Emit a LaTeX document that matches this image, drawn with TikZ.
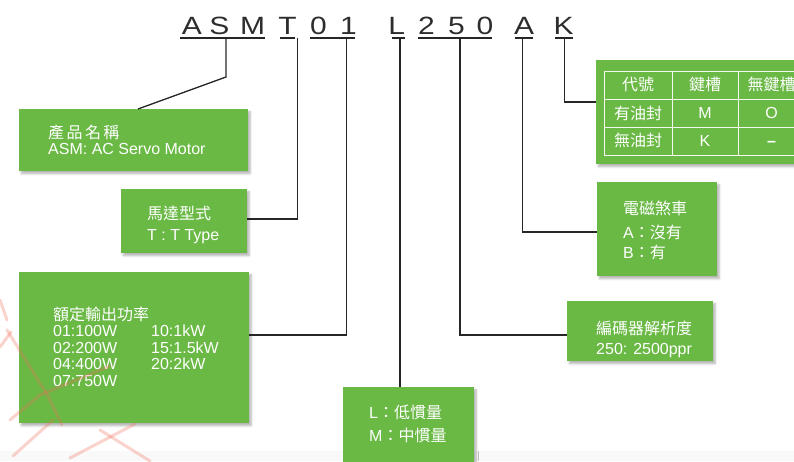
\documentclass[tikz,border=0pt]{standalone}
\usepackage{fontspec}
\setmainfont{Liberation Sans}
\newfontfamily\cjk[Scale=1.0]{Noto Sans CJK TC}
\newfontfamily\cjkwide[Scale=1.0,LetterSpace=15]{Noto Sans CJK TC}
\newfontfamily\codefont[FakeStretch=1.2]{Liberation Sans}
\usetikzlibrary{shadows.blur,calc}
\definecolor{boxgreen}{RGB}{106,185,69}
\definecolor{codegray}{RGB}{45,45,45}
\definecolor{wmark}{RGB}{238,110,90}
\definecolor{bandgray}{RGB}{249,249,249}
\begin{document}
\begin{tikzpicture}[x=1pt,y=-1pt,
  box/.style={fill=boxgreen, draw=none, inner sep=0pt, anchor=north west,
    blur shadow={shadow xshift=2pt,shadow yshift=-2.5pt,shadow opacity=30,shadow blur steps=6}},
  code/.style={font=\codefont\fontsize{25}{25}\selectfont, text=codegray, anchor=base, inner sep=0pt},
  txt/.style={font=\fontsize{16}{18}\selectfont, text=white, anchor=base west, inner sep=0pt},
  cell/.style={font=\fontsize{16}{18}\selectfont, text=white, anchor=base, inner sep=0pt},
  conn/.style={draw=black!85, line width=1.3pt},
  uline/.style={draw=black!85, line width=1.3pt},
  tline/.style={draw=white!92!boxgreen, line width=0.9pt},
  wm/.style={draw=wmark, line width=3pt, opacity=0.3, line cap=round, line join=round}
]
\useasboundingbox (0,0) rectangle (794,461);
\fill[bandgray] (0,451) rectangle (794,461);

% ---- code letters ----
\node[code] (cA)  at (192,34.5) {A};
\node[code] (cS)  at (219.5,34.5) {S};
\node[code] (cM)  at (252.5,34.5) {M};
\node[code] (cT)  at (287.5,34.5) {T};
\node[code] (c0a) at (318.5,34.5) {0};
\node[code] (c1)  at (348.5,34.5) {1};
\node[code] (cL)  at (396.8,34.5) {L};
\node[code] (c2)  at (426.5,34.5) {2};
\node[code] (c5)  at (456.5,34.5) {5};
\node[code] (c0b) at (485,34.5) {0};
\node[code] (cA2) at (524,34.5) {A};
\node[code] (cK)  at (563.5,34.5) {K};

% underlines
\draw[uline] (180,38) -- (265,38);
\draw[uline] (280,38) -- (295,38);
\draw[uline] (310,38) -- (355,38);
\draw[uline] (392,38) -- (405,38);
\draw[uline] (418,38) -- (492,38);
\draw[uline] (515,38) -- (533,38);
\draw[uline] (555,38) -- (573,38);

\coordinate (uASM) at (226,38);
\coordinate (uT)   at (297.7,38);
\coordinate (u01)  at (346.7,38);
\coordinate (uL)   at (400,38);
\coordinate (u250) at (460,38);
\coordinate (uA)   at (522.7,38);
\coordinate (uK)   at (564.3,38);

% ---- boxes ----
\node[box, minimum width=229pt, minimum height=62pt]  (b1) at (19,109) {};
\node[box, minimum width=126pt, minimum height=64pt]  (b2) at (121,189) {};
\node[box, minimum width=230pt, minimum height=151pt] (b3) at (19,272) {};
\node[box, minimum width=131pt, minimum height=80pt]  (bL) at (343,387) {};
\node[box, minimum width=146pt, minimum height=60pt]  (b5) at (567,301) {};
\node[box, minimum width=120pt, minimum height=94pt]  (b6) at (597,182) {};
\node[box, minimum width=230pt, minimum height=104pt] (b7) at (596,60) {};

% ---- connectors ----
\draw[conn] (uASM) -- ++(0,39) -- ($(b1.north west)+(119,0)$);
\draw[conn] (uT) |- ($(b2.north east)+(0,30)$);
\draw[conn] (u01) |- ($(b3.north east)+(0,63)$);
\draw[conn] (uL) -- (uL |- bL.north);
\draw[conn] (u250) |- ($(b5.north west)+(0,34)$);
\draw[conn] (uA) |- ($(b6.north west)+(0,50)$);
\draw[conn] (uK) |- ($(b7.north west)+(0,42)$);

% ---- box texts ----
\node[txt] (t1a) at (48,138) {\cjkwide 產品名稱};
\node[txt] (t1b) at (48,154) {ASM: AC Servo Motor};

\node[txt] (t2a) at (147,219.5) {\cjk 馬達型式};
\node[txt] (t2b) at (147,240) {T : T Type};

\node[txt] (t3a) at (53,320.5) {\cjk 額定輸出功率};
\node[txt] (t3b) at (53,336) {01:100W};
\node[txt] (t3c) at (53,353) {02:200W};
\node[txt] (t3d) at (53,369.5) {04:400W};
\node[txt] (t3e) at (53,386) {07:750W};
\node[txt] (t3f) at (151,336) {10:1kW};
\node[txt] (t3g) at (151,353) {15:1.5kW};
\node[txt] (t3h) at (151,369.5) {20:2kW};

\node[txt] (tLa) at (369,418) {L{\cjk ：低慣量}};
\node[txt] (tLb) at (369,441) {M{\cjk ：中慣量}};

\node[txt] (t5a) at (596,334) {\cjk 編碼器解析度};
\node[txt] (t5b) at (596,354) {250: 2500ppr};

\node[txt] (t6a) at (623,214) {\cjk 電磁煞車};
\node[txt] (t6b) at (623,238) {A{\cjk ：沒有}};
\node[txt] (t6c) at (623,258) {B{\cjk ：有}};

% ---- table ----
\draw[tline] (604,71) rectangle (840,155);
\draw[tline] (604,99) -- (840,99);
\draw[tline] (604,127) -- (840,127);
\draw[tline] (672,71) -- (672,155);
\draw[tline] (738,71) -- (738,155);
\draw[tline] (805,71) -- (805,155);

\node[cell] (h1) at (638,90.5) {\cjk 代號};
\node[cell] (h2) at (705,90.5) {\cjk 鍵槽};
\node[cell] (h3) at (771.5,90.5) {\cjk 無鍵槽};
\node[cell] (r1a) at (638,119.5) {\cjk 有油封};
\node[cell] (r1b) at (705,118.5) {M};
\node[cell] (r1c) at (771.5,118.5) {O};
\node[cell] (r2a) at (638,146.5) {\cjk 無油封};
\node[cell] (r2b) at (705,146) {K};
\node[cell] (r2c) at (771.5,146) {\textbf{–}};

% ---- faint watermark strokes ----
\draw[wm] (0,300) -- (7,320);
\draw[wm] (0,347) -- (11,332);
\draw[wm] (7,330) -- (48,396) -- (62,425);
\draw[wm] (10,420) -- (40,395) -- (110,366);
\draw[wm] (13,456) -- (53,420);
\draw[wm] (70,458) -- (135,424);
\draw[wm] (100,430) -- (150,461);
\end{tikzpicture}
\end{document}
